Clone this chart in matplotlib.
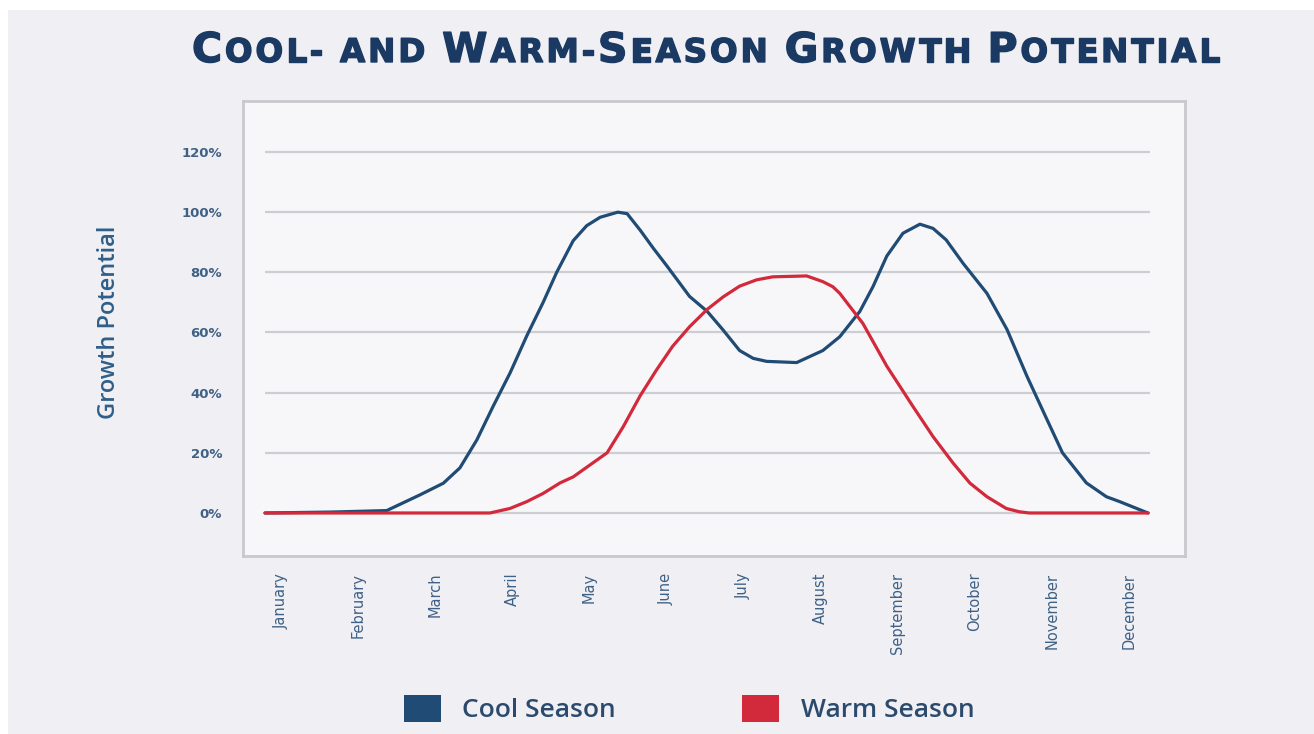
import matplotlib
matplotlib.use("Agg")
import matplotlib.pyplot as plt
import matplotlib.patheffects as pe
from matplotlib.patches import Rectangle, Patch

# ---- data -------------------------------------------------------------
months = ["January", "February", "March", "April", "May", "June", "July",
          "August", "September", "October", "November", "December"]
y_ticks = [0, 20, 40, 60, 80, 100, 120]
y_tick_labels = ["0%", "20%", "40%", "60%", "80%", "100%", "120%"]

# position along the year in month units (0 = January)
cool_x = [-0.21, 0.64, 1.37, 1.80, 2.105, 2.32, 2.54, 2.75, 2.97, 3.19, 3.40,
          3.576, 3.79, 3.965, 4.14, 4.37, 4.49, 4.66, 4.83, 5.01, 5.30, 5.53,
          5.73, 5.95, 6.126, 6.30, 6.69, 7.03, 7.25, 7.51, 7.68, 7.86, 8.07,
          8.29, 8.46, 8.63, 8.85, 9.16, 9.42, 9.68, 9.94, 10.14, 10.45, 10.71,
          10.88, 11.21, 11.25]
cool_y = [0, 0.3, 0.8, 6, 9.9, 15, 24.3, 35.4, 46.5, 59, 70,
          80, 90.5, 95.5, 98.3, 100, 99.5, 94, 88, 82, 72, 67,
          61, 54, 51.4, 50.4, 50, 54, 58.6, 67, 75.2, 85.4, 93,
          96, 94.6, 90.8, 83, 73, 61, 45.4, 31, 20, 10, 5.4,
          3.8, 0.4, 0]

warm_x = [-0.21, 2.71, 2.97, 3.19, 3.40, 3.62, 3.79, 4.23, 4.44, 4.66, 4.87,
          5.08, 5.30, 5.53, 5.74, 5.95, 6.17, 6.38, 6.82, 7.03, 7.16, 7.25,
          7.55, 7.86, 8.20, 8.46, 8.72, 8.94, 9.16, 9.41, 9.58, 9.71, 11.25]
warm_y = [0, 0, 1.5, 3.8, 6.5, 10, 12, 20, 28.7, 39, 47.5,
          55.4, 61.9, 67.7, 71.9, 75.4, 77.5, 78.5, 78.8, 76.9, 75.2, 73,
          63, 48.8, 35.4, 25.4, 16.6, 9.9, 5.4, 1.5, 0.4, 0, 0]

series_names = ["Cool Season", "Warm Season"]

# ---- style ------------------------------------------------------------
NAVY = "#1b3a63"
BLUE = "#1f4b74"
RED = "#d2293b"
LABEL = "#3f6186"
BG = "#f0f0f4"

W, H = 1314, 734
fig = plt.figure(figsize=(W / 100, H / 100), dpi=100, facecolor="white")
fig.patches.append(Rectangle((8 / W, 0), 1 - 8 / W, 1 - 10 / H,
                             transform=fig.transFigure, facecolor=BG,
                             edgecolor="none", zorder=-10))

ax = fig.add_axes([243 / W, 1 - 556 / H, 942 / W, 455 / H])
ax.set_facecolor("#f7f7fa")
for sp in ax.spines.values():
    sp.set_color("#c9c9cd")
    sp.set_linewidth(2)

ax.set_xlim(-0.495, 11.73)
ax.set_ylim(-14.3, 136.95)

# horizontal guide lines spanning the data range
ax.hlines(y_ticks, cool_x[0], cool_x[-1] + 0.02, colors="#cdced3",
          linewidth=1.6, zorder=1)

ax.plot(cool_x, cool_y, color=BLUE, linewidth=2.3, zorder=3,
        solid_joinstyle="round", solid_capstyle="round")
ax.plot(warm_x, warm_y, color=RED, linewidth=2.3, zorder=4,
        solid_joinstyle="round", solid_capstyle="round")

ax.set_yticks(y_ticks)
ax.set_yticklabels(y_tick_labels, fontsize=9.5, fontweight="bold",
                   color=LABEL, family="DejaVu Sans")
ax.tick_params(axis="y", length=0, pad=15)

ax.set_xticks(range(len(months)))
ax.set_xticklabels(months, rotation=90, fontsize=10.5, color=LABEL,
                   va="top", ha="center")
ax.tick_params(axis="x", length=0, pad=12)

fig.text(109 / W, 1 - 322 / H, "Growth Potential", rotation=90,
         ha="center", va="center", fontsize=17, color="#2f5e88",
         family="Open Sans", fontweight="semibold")

# ---- small-caps title, letter-spaced to a fixed width ------------------
big, small = 29.5, 23.5
words = [("C", "OOL-"), ("", "AND"), ("W", "ARM-"), ("S", "EASON"),
         ("G", "ROWTH"), ("P", "OTENTIAL")]
joins = [" ", " ", "", " ", " "]
chars = []
for i, (cap, rest) in enumerate(words):
    chars += [(c, big) for c in cap] + [(c, small) for c in rest]
    if i < len(joins) and joins[i] == " ":
        chars.append((None, 0))

baseline = 1 - 62 / H
target_left, target_right = 192, 1220
space_px = 14
renderer = fig.canvas.get_renderer()
stroke = [pe.withStroke(linewidth=1.0, foreground=NAVY)]
items = []
for c, size in chars:
    if c is None:
        items.append((None, space_px))
        continue
    t = fig.text(0, baseline, c, fontsize=size, color=NAVY,
                 family="DejaVu Sans", fontweight="bold",
                 va="baseline", ha="left", path_effects=stroke)
    items.append((t, t.get_window_extent(renderer).width))
natural = sum(w for _, w in items)
n_gaps = sum(1 for t, _ in items if t is not None) - 1
track = (target_right - target_left - natural) / n_gaps
x_px = target_left
for t, w in items:
    if t is None:
        x_px += w
        continue
    t.set_x(x_px / W)
    x_px += w + track

# ---- legend -----------------------------------------------------------
handles = [Patch(facecolor=BLUE, edgecolor="none"),
           Patch(facecolor=RED, edgecolor="none")]
fs = 19
fig.legend(handles, series_names, loc="center", ncol=2, frameon=False,
           bbox_to_anchor=(689 / W, 1 - 709 / H),
           handlelength=1.4, handleheight=1.21, handletextpad=0.83,
           columnspacing=4.77, labelcolor="#2c4a6e",
           prop={"family": "Open Sans", "weight": "semibold", "size": fs})

fig.savefig("out.png", dpi=100, facecolor=fig.get_facecolor())
